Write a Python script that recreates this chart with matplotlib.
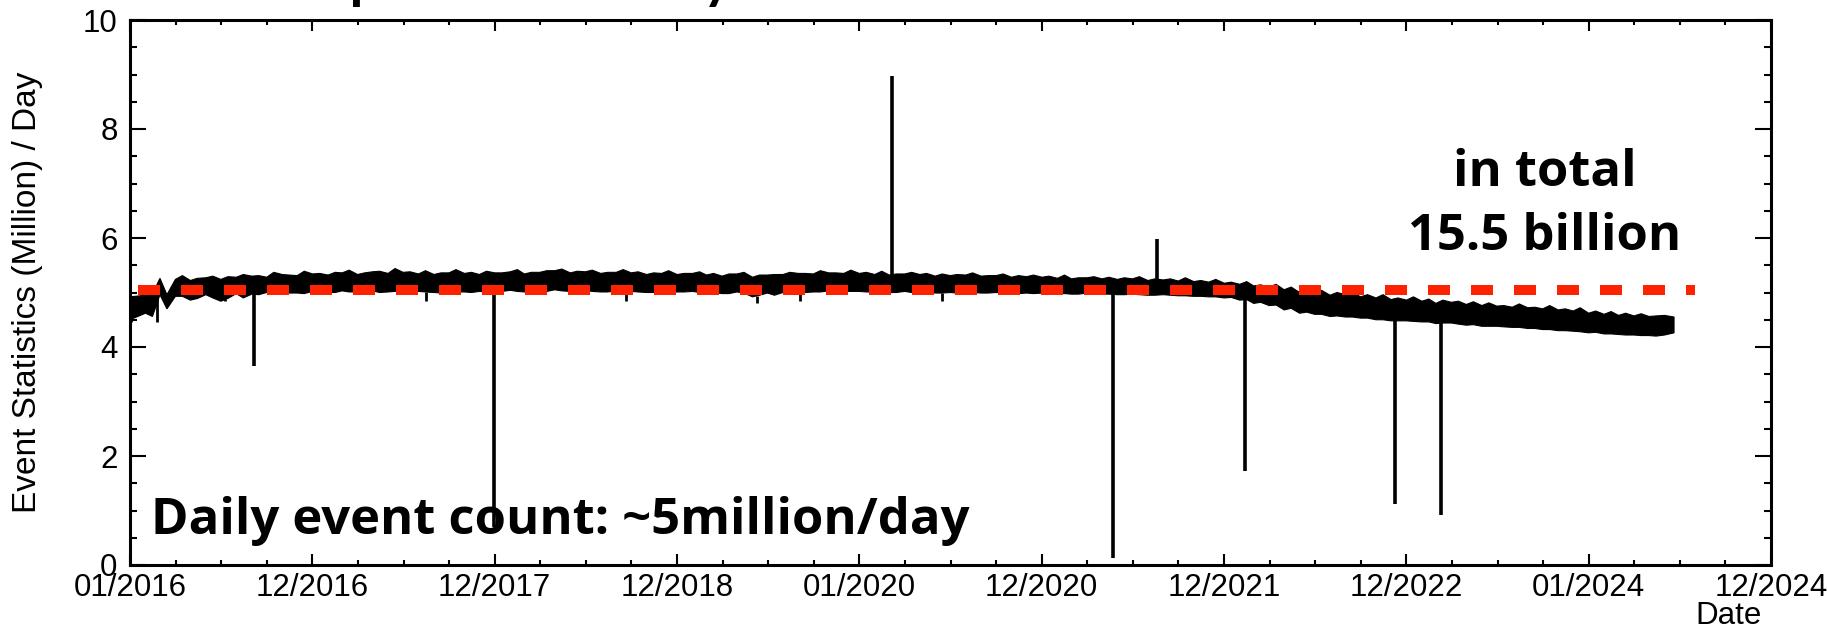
import numpy as np
import pandas as pd
import matplotlib
matplotlib.use("Agg")
import matplotlib.pyplot as plt
import matplotlib.dates as mdates
from matplotlib.ticker import FixedLocator, MultipleLocator

# --- envelope of the daily event count (million / day) ---
# values on the 1st of each month, plus the last day of data
months = pd.date_range("2016-01-01", "2024-06-01", freq="MS").tolist() + [pd.Timestamp("2024-06-20")]
# values on the 15th of each month (the ragged noise tips)
mids = pd.date_range("2016-01-15", "2024-05-15", freq="MS") + pd.Timedelta(days=14)

band_lo = [
    4.50, 4.62, 4.96, 4.93, 4.86, 4.96, 4.84, 4.98, 4.97, 5.00, 5.01, 4.99,  # 2016
    5.02, 5.00, 5.03, 5.01, 5.03, 5.01, 5.04, 5.02, 5.00, 5.03, 5.01, 5.02,  # 2017
    5.02, 5.04, 5.01, 5.03, 5.05, 5.02, 5.04, 5.01, 5.03, 5.02, 5.00, 5.02,  # 2018
    5.01, 5.02, 5.00, 4.98, 5.01, 4.92, 4.99, 5.00, 5.02, 5.01, 5.03, 5.02,  # 2019
    5.02, 5.01, 5.00, 5.02, 5.01, 4.99, 5.00, 5.01, 4.99, 5.00, 4.98, 4.99,  # 2020
    4.99, 4.98, 4.97, 4.99, 4.97, 4.96, 4.97, 4.95, 4.96, 4.94, 4.93, 4.92,  # 2021
    4.90, 4.86, 4.80, 4.76, 4.68, 4.62, 4.60, 4.56, 4.55, 4.53, 4.50, 4.48,  # 2022
    4.48, 4.46, 4.43, 4.44, 4.40, 4.38, 4.38, 4.36, 4.34, 4.32, 4.30, 4.29,  # 2023
    4.26, 4.24, 4.23, 4.22, 4.21, 4.22, 4.26,                                # 2024
]
band_hi = [
    4.92, 4.95, 5.26, 5.24, 5.22, 5.27, 5.24, 5.28, 5.30, 5.28, 5.33, 5.31,
    5.34, 5.32, 5.36, 5.33, 5.38, 5.35, 5.37, 5.34, 5.33, 5.36, 5.35, 5.33,
    5.36, 5.38, 5.34, 5.37, 5.40, 5.36, 5.38, 5.35, 5.37, 5.36, 5.33, 5.35,
    5.33, 5.35, 5.32, 5.30, 5.34, 5.28, 5.32, 5.33, 5.35, 5.34, 5.36, 5.35,
    5.35, 5.33, 5.32, 5.34, 5.33, 5.30, 5.31, 5.32, 5.30, 5.31, 5.28, 5.29,
    5.28, 5.26, 5.25, 5.27, 5.25, 5.24, 5.25, 5.22, 5.23, 5.21, 5.20, 5.19,
    5.17, 5.15, 5.12, 5.10, 5.05, 5.00, 5.00, 4.95, 4.96, 4.92, 4.90, 4.87,
    4.86, 4.84, 4.80, 4.82, 4.78, 4.76, 4.75, 4.73, 4.72, 4.70, 4.68, 4.66,
    4.62, 4.60, 4.58, 4.57, 4.56, 4.58, 4.55,
]
mid_lo = [
    4.56, 4.70, 4.93, 4.89, 4.90, 4.89, 4.90, 4.96, 4.98, 4.99, 4.98, 5.00,
    5.00, 5.01, 5.01, 5.00, 5.02, 5.02, 5.01, 4.99, 5.01, 5.00, 5.01, 5.02,
    5.02, 5.01, 5.02, 5.03, 5.02, 5.02, 5.01, 5.02, 5.01, 5.00, 5.00, 5.01,
    5.00, 5.00, 4.98, 4.99, 4.95, 4.95, 4.99, 5.00, 5.01, 5.01, 5.02, 5.01,
    5.01, 5.00, 5.00, 5.01, 4.99, 4.99, 5.00, 4.99, 4.99, 4.98, 4.98, 4.99,
    4.98, 4.97, 4.97, 4.97, 4.96, 4.96, 4.95, 4.95, 4.94, 4.93, 4.92, 4.91,
    4.87, 4.82, 4.77, 4.71, 4.64, 4.60, 4.57, 4.55, 4.53, 4.50, 4.48, 4.47,
    4.46, 4.44, 4.42, 4.41, 4.38, 4.37, 4.36, 4.34, 4.32, 4.30, 4.28, 4.27,
    4.24, 4.22, 4.21, 4.20, 4.20,
]
mid_hi = [
    4.97, 4.96, 5.31, 5.26, 5.30, 5.29, 5.33, 5.31, 5.37, 5.32, 5.39, 5.35,
    5.37, 5.41, 5.36, 5.39, 5.44, 5.38, 5.40, 5.36, 5.42, 5.37, 5.39, 5.36,
    5.42, 5.37, 5.40, 5.43, 5.39, 5.41, 5.37, 5.42, 5.38, 5.36, 5.40, 5.35,
    5.38, 5.35, 5.34, 5.37, 5.32, 5.33, 5.37, 5.35, 5.40, 5.36, 5.41, 5.37,
    5.39, 5.34, 5.37, 5.35, 5.34, 5.33, 5.36, 5.31, 5.34, 5.31, 5.32, 5.30,
    5.32, 5.27, 5.29, 5.28, 5.27, 5.29, 5.25, 5.25, 5.27, 5.22, 5.24, 5.19,
    5.20, 5.14, 5.15, 5.10, 5.06, 5.04, 5.00, 5.01, 4.96, 4.96, 4.90, 4.92,
    4.88, 4.86, 4.84, 4.83, 4.81, 4.76, 4.79, 4.73, 4.76, 4.70, 4.72, 4.66,
    4.65, 4.62, 4.61, 4.57, 4.62,
]

# single-day outliers (up and down)
spike_days = ["2016-09-05", "2017-12-30", "2020-03-06", "2021-05-23",
              "2021-08-19", "2022-02-12", "2022-12-09", "2023-03-12"]
spike_vals = [3.65, 0.70, 8.98, 0.12, 5.98, 1.72, 1.12, 0.92]

# small dips below the band
dip_days = ["2016-01-04", "2016-02-25", "2016-07-10", "2017-08-15",
            "2018-09-20", "2019-06-10", "2019-09-05", "2020-06-15"]
dip_vals = [4.45, 4.45, 4.85, 4.85, 4.85, 4.80, 4.85, 4.85]

mean_level = 5.05
mean_span = ["2016-01-17", "2024-08-01"]

tick_start = pd.Timestamp("2016-01-01")

# --- figure ---
fig = plt.figure(figsize=(18.27, 6.3), dpi=100)
ax = fig.add_axes([130 / 1827, 65 / 630, 1641 / 1827, 545 / 630])

xm = mdates.date2num(months)
xd = mdates.date2num(mids)
xs = np.concatenate([xm, xd])
order = np.argsort(xs)
edge_x = xs[order]
edge_lo = np.concatenate([band_lo, mid_lo])[order]
edge_hi = np.concatenate([band_hi, mid_hi])[order]
ax.fill(np.concatenate([edge_x, edge_x[::-1]]),
        np.concatenate([edge_hi, edge_lo[::-1]]),
        color="black", lw=0.8, zorder=2)

sx = mdates.date2num(pd.to_datetime(spike_days))
base = np.interp(sx, xm, [(a + b) / 2 for a, b in zip(band_lo, band_hi)])
ax.vlines(sx, base, spike_vals, color="black", lw=2.6, zorder=2)

dx = mdates.date2num(pd.to_datetime(dip_days))
dbase = np.interp(dx, xm, band_lo)
ax.vlines(dx, dbase, dip_vals, color="black", lw=2.0, zorder=2)

mx = mdates.date2num(pd.to_datetime(mean_span))
ax.plot(mx, [mean_level, mean_level], color="#ff2200", lw=7.2,
        dashes=(2.2, 2.1), solid_capstyle="butt", dash_capstyle="butt", zorder=3)

# ROOT-like time axis: 9 equal divisions, 4 sub-divisions
t0 = mdates.date2num(tick_start)
major = t0 + np.arange(10) * 365.25
minor = t0 + np.arange(37) * 365.25 / 4
ax.set_xlim(major[0], major[-1])
ax.xaxis.set_major_locator(FixedLocator(major))
ax.xaxis.set_minor_locator(FixedLocator(minor))
ax.xaxis.set_major_formatter(mdates.DateFormatter("%m/%Y"))

ax.set_ylim(0, 10)
ax.yaxis.set_major_locator(MultipleLocator(2))
ax.yaxis.set_minor_locator(MultipleLocator(0.5))

for s in ax.spines.values():
    s.set_linewidth(2.2)
ax.tick_params(axis="both", which="both", direction="in", top=True, right=True,
               width=1.5, labelsize=22.5, labelfontfamily="Liberation Sans")
ax.tick_params(axis="x", which="major", length=8, pad=6)
ax.tick_params(axis="x", which="minor", length=3.8)
ax.tick_params(axis="y", which="major", length=11.5, pad=9)
ax.tick_params(axis="y", which="minor", length=5)

ax.set_ylabel("Event Statistics (Million) / Day", fontsize=24, family="Liberation Sans")
ax.yaxis.set_label_coords(-0.053, 0.5)
fig.text(1762 / 1827, 14 / 630, "Date", ha="right", va="center",
         fontsize=22.5, family="Liberation Sans")

big = dict(fontsize=36.5, fontweight="bold", family="Open Sans", zorder=4)
ax.text(0.0125, 0.057, "Daily event count: ~5million/day", transform=ax.transAxes,
        ha="left", va="baseline", **big)
ax.text(0.862, (565 - 186) / 545, "in total", transform=ax.transAxes,
        ha="center", va="baseline", **big)
ax.text(0.862, (565 - 250) / 545, "15.5 billion", transform=ax.transAxes,
        ha="center", va="baseline", **big)

# title sits above the canvas, only the descenders are visible
fig.text(150 / 1827, 1 + 2 / 630, "Stable operation for 8 years", ha="left", va="baseline",
         fontsize=40, fontweight="bold", family="Lato")

fig.savefig("out.png", dpi=100)
